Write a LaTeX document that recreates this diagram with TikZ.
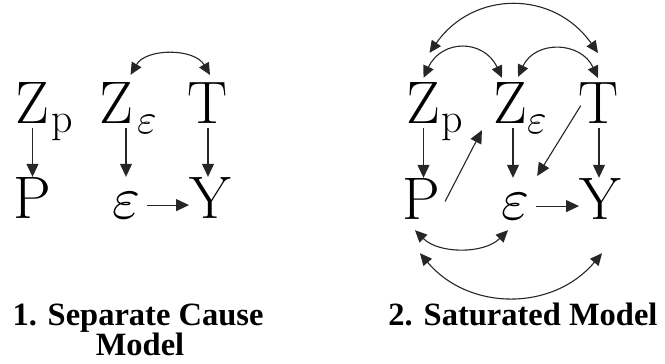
\documentclass[tikz,border=0pt]{standalone}
\usepackage{graphicx}
\usepackage{fontspec}
\newfontfamily\capfont{Liberation Serif}
\usetikzlibrary{arrows.meta}
\newcommand{\bigeps}{\scalebox{6}{\normalsize$\varepsilon$}}
\newcommand{\subeps}{\scalebox{4.2}{\normalsize$\varepsilon$}}
\begin{document}
\begin{tikzpicture}[x=1pt,y=-1pt,
  big/.style={inner sep=0pt,anchor=base,font=\rmfamily\fontsize{60}{60}\selectfont},
  subtxt/.style={inner sep=0pt,anchor=base west,font=\rmfamily\fontsize{42}{42}\selectfont},
  captxt/.style={inner sep=0pt,anchor=base,font=\capfont\fontsize{32.5}{36}\selectfont\bfseries},
  arr/.style={draw=black!85,line width=1.1pt,-{Triangle[length=13pt,width=12pt]}},
  barr/.style={draw=black!85,line width=1.1pt,{Triangle[length=12pt,width=11pt]}-{Triangle[length=12pt,width=11pt]}}]
\useasboundingbox (0,0) rectangle (665,364);
% ---------- left panel ----------
\node[big] (zpL) at (32.5,123) {Z};
\node[subtxt] (zpLs) at (51.5,132) {p};
\node[big] (zeL) at (116.5,123) {Z};
\node[subtxt] (zeLs) at (137,133) {\subeps};
\node[big] (TL) at (208,123) {T};
\node[big] (PL) at (32,218) {P};
\node[big] (epsL) at (126,218) {\bigeps};
\node[big] (YL) at (210,218) {Y};
\draw[arr,shorten <=5pt] (zpL.south) -- (zpL.south |- PL.north);
\draw[arr,shorten <=5pt] (zeL.south -| epsL.north) -- (YL.north -| epsL.north);
\draw[arr,shorten <=5pt] (TL.south) -- (TL.south |- YL.north);
\draw[arr,shorten <=7pt] (epsL.east) -- (YL.west |- epsL.east);
\draw[barr] ([shift={(-3,-7)}]zeL.north east) to[out=60,in=120,looseness=1] ([shift={(2,-7)}]TL.north);
\node[captxt] (c1) at (138,325) {1. Separate Cause};
\node[captxt] (c1b) at (140,355) {Model};
% ---------- right panel ----------
\node[big] (zpR) at (423.5,123) {Z};
\node[subtxt] (zpRs) at (441.5,132) {p};
\node[big] (zeR) at (510,123) {Z};
\node[subtxt] (zeRs) at (527,133) {\subeps};
\node[big] (TR) at (599,123) {T};
\node[big] (PR) at (421,219) {P};
\node[big] (epsR) at (515,219) {\bigeps};
\node[big] (YR) at (600,219) {Y};
\draw[arr,shorten <=5pt] (zpR.south) -- (zpR.south |- PR.north);
\draw[arr,shorten <=5pt] ([xshift=-2pt]zeR.south -| epsR.north) -- ([xshift=-2pt]YR.north -| epsR.north);
\draw[arr,shorten <=5pt] (TR.south) -- (TR.south |- YR.north);
\draw[arr,shorten <=7pt] (epsR.east) -- (YR.west |- epsR.east);
\draw[arr] ([shift={(5,3)}]PR.east) -- ([shift={(-11,7)}]zeR.south west);
\draw[arr] ([shift={(2,3)}]TR.west) -- ([shift={(8,-17)}]epsR.north east);
\draw[barr] ([shift={(0,-4)}]zpR.north) to[out=65,in=115,looseness=1.4] ([shift={(-8,-4)}]zeR.north);
\draw[barr] ([shift={(8,-5)}]zeR.north) to[out=65,in=115,looseness=1.3] ([shift={(-1,-4)}]TR.north);
\draw[barr] ([shift={(6,-29)}]zpR.north) to[out=55,in=125,looseness=1.17] ([shift={(-1,-29)}]TR.north);
\draw[barr] ([shift={(-6,11)}]PR.south) to[out=-45,in=-135,looseness=0.93] ([shift={(-7,11)}]epsR.south);
\draw[barr] ([shift={(-1,34)}]PR.south) to[out=-50,in=-130,looseness=1.07] ([shift={(2,34)}]YR.south);
\node[captxt] (c2) at (523,325) {2. Saturated Model};
\end{tikzpicture}
\end{document}
